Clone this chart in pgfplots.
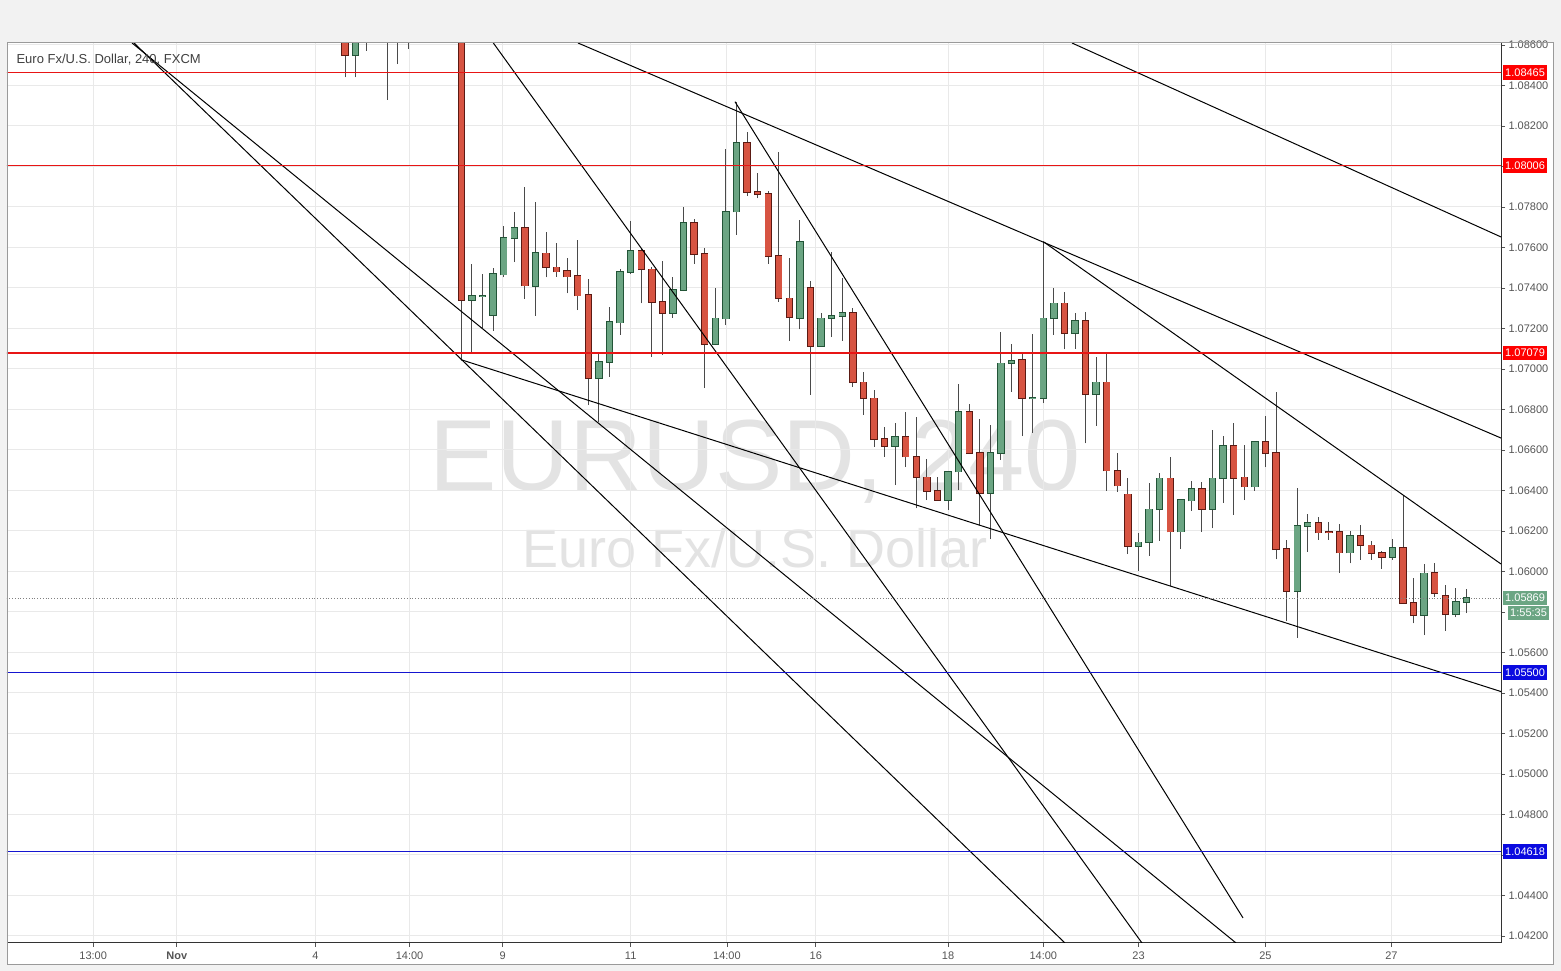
\documentclass[border=0pt]{standalone}
\usepackage{fontspec}
\setmainfont{Liberation Sans}
\usepackage{pgfplots}
\usepackage{pgfplotstable}
\pgfplotsset{compat=1.18}
\definecolor{upfill}{HTML}{6BA583}
\definecolor{upline}{HTML}{225437}
\definecolor{dnfill}{HTML}{D75442}
\definecolor{dnline}{HTML}{5B1A13}
\definecolor{wick}{HTML}{4A4A4A}
\definecolor{gridc}{HTML}{E9E9E9}
\definecolor{bgc}{HTML}{F2F2F2}
\definecolor{framec}{HTML}{9A9A9A}
\definecolor{labc}{HTML}{555555}
\definecolor{wm}{HTML}{E3E3E3}
\definecolor{levred}{HTML}{E81515}
\definecolor{boxred}{HTML}{FF0000}
\definecolor{levblue}{HTML}{1515D0}
\definecolor{boxblue}{HTML}{0A0AE0}
\definecolor{boxgreen}{HTML}{6BA583}

\pgfplotstableread{
i O H L C
0 1.0868 1.0875 1.08440 1.08549
1 1.08549 1.0872 1.08440 1.0866
2 1.0866 1.0874 1.08572 1.0870
3 1.0870 1.0878 1.0864 1.0872
4 1.0872 1.0880 1.08330 1.0868
5 1.0868 1.0876 1.08506 1.0870
6 1.0870 1.0880 1.08582 1.0874
7 1.0874 1.0879 1.0866 1.0872
8 1.0872 1.0880 1.0868 1.0876
9 1.0876 1.0881 1.0869 1.0873
10 1.0873 1.0880 1.0868 1.0875
11 1.0875 1.0882 1.07046 1.07342
12 1.07342 1.07519 1.07079 1.07359
13 1.07360 1.07469 1.07203 1.07362
14 1.07268 1.07499 1.07189 1.07469
15 1.07466 1.07705 1.07453 1.07647
16 1.07645 1.07777 1.07528 1.07695
17 1.07695 1.07899 1.07348 1.07412
18 1.07411 1.07826 1.07263 1.07574
19 1.07571 1.07675 1.07453 1.07502
20 1.07502 1.07621 1.07456 1.07481
21 1.07484 1.07550 1.07374 1.07456
22 1.07459 1.07637 1.07291 1.07362
23 1.07365 1.07444 1.06822 1.06954
24 1.06954 1.07074 1.06738 1.07036
25 1.07036 1.07305 1.06962 1.07231
26 1.07229 1.07492 1.07168 1.07478
27 1.07478 1.07732 1.07469 1.07583
28 1.07583 1.07596 1.07324 1.07492
29 1.07492 1.07502 1.07061 1.07332
30 1.07332 1.07535 1.07069 1.07278
31 1.07278 1.07456 1.07253 1.07390
32 1.07390 1.07799 1.07385 1.07720
33 1.07720 1.07739 1.07519 1.07566
34 1.07568 1.07596 1.06906 1.07122
35 1.07122 1.07399 1.07118 1.07250
36 1.07249 1.08085 1.07217 1.07777
37 1.07777 1.08320 1.07662 1.08115
38 1.08115 1.08172 1.07854 1.07873
39 1.07873 1.07969 1.07843 1.07863
40 1.07863 1.07879 1.07519 1.07558
41 1.07558 1.08073 1.07332 1.07349
42 1.07349 1.07547 1.07140 1.07255
43 1.07253 1.07736 1.07196 1.07626
44 1.07399 1.07436 1.06872 1.07114
45 1.07114 1.07275 1.07110 1.07250
46 1.07250 1.07576 1.07157 1.07262
47 1.07262 1.07451 1.07140 1.07275
48 1.07275 1.07300 1.06913 1.06934
49 1.06934 1.06987 1.06773 1.06855
50 1.06855 1.06896 1.06615 1.06653
51 1.06653 1.06715 1.06567 1.06620
52 1.06620 1.06735 1.06427 1.06666
53 1.06666 1.06789 1.06515 1.06567
54 1.06567 1.06764 1.06312 1.06465
55 1.06465 1.06554 1.06353 1.06399
56 1.06399 1.06468 1.06350 1.06353
57 1.06353 1.06498 1.06304 1.06493
58 1.06493 1.06926 1.06402 1.06789
59 1.06789 1.06827 1.06580 1.06584
60 1.06584 1.06752 1.06230 1.06386
61 1.06389 1.06723 1.06159 1.06584
62 1.06584 1.07184 1.06551 1.07028
63 1.07028 1.07123 1.06888 1.07041
64 1.07044 1.07078 1.06669 1.06855
65 1.06855 1.07173 1.06685 1.06858
66 1.06858 1.07629 1.06831 1.07250
67 1.07250 1.07399 1.07168 1.07324
68 1.07324 1.07382 1.07097 1.07176
69 1.07176 1.07275 1.07099 1.07236
70 1.07237 1.07280 1.06633 1.06875
71 1.06875 1.07061 1.06720 1.06934
72 1.06934 1.07078 1.06399 1.06498
73 1.06498 1.06584 1.06394 1.06424
74 1.06381 1.06460 1.06086 1.06127
75 1.06127 1.06189 1.06004 1.06144
76 1.06144 1.06439 1.06077 1.06307
77 1.06307 1.06485 1.06152 1.06460
78 1.06460 1.06567 1.05928 1.06197
79 1.06197 1.06356 1.06110 1.06353
80 1.06350 1.06447 1.06300 1.06406
81 1.06406 1.06443 1.06197 1.06310
82 1.06310 1.06699 1.06213 1.06460
83 1.06460 1.06669 1.06340 1.06620
84 1.06620 1.06732 1.06279 1.06463
85 1.06465 1.06625 1.06353 1.06419
86 1.06419 1.06640 1.06399 1.06638
87 1.06638 1.06768 1.06515 1.06584
88 1.06584 1.06888 1.06060 1.06110
89 1.06110 1.06156 1.05757 1.05905
90 1.05905 1.06411 1.05672 1.06226
91 1.06226 1.06284 1.06098 1.06238
92 1.06238 1.06271 1.06156 1.06192
93 1.06194 1.06246 1.06156 1.06192
94 1.06194 1.06235 1.05994 1.06093
95 1.06093 1.06201 1.06040 1.06175
96 1.06175 1.06230 1.06057 1.06129
97 1.06129 1.06151 1.06057 1.06090
98 1.06090 1.06101 1.06014 1.06073
99 1.06073 1.06162 1.06057 1.06115
100 1.06115 1.06378 1.05840 1.05843
101 1.05843 1.05966 1.05744 1.05784
102 1.05784 1.06036 1.05686 1.05991
103 1.05994 1.06044 1.05873 1.05892
104 1.05879 1.05934 1.05708 1.05789
105 1.05789 1.05917 1.05774 1.05848
106 1.05848 1.05912 1.05794 1.05869
}\candles

\tikzset{lbl/.style={anchor=west, text=white, font=\fontsize{11}{12}\selectfont, inner xsep=2.5pt, inner ysep=0pt, minimum height=14.5pt, xshift=1.5pt}}

\begin{document}
\begin{tikzpicture}
\fill[bgc] (0pt,0pt) rectangle (1561pt,971pt);
\useasboundingbox (0pt,0pt) rectangle (1561pt,971pt);
\fill[white] (7pt,6pt) rectangle (1553pt,928pt);
\node[text=wm, font=\fontsize{101}{101}\selectfont] at (755pt,509pt) {EURUSD, 240};
\node[text=wm, font=\fontsize{54}{54}\selectfont] at (755pt,423pt) {Euro Fx/U.S. Dollar};
\begin{axis}[
  at={(7pt,28pt)}, anchor=south west,
  scale only axis, width=1494pt, height=900pt,
  xmin=-31.947, xmax=109.263,
  ymin=1.041654, ymax=1.086099,
  axis x line*=bottom, axis y line*=right,
  axis line style={draw=black!80, line width=1pt},
  clip mode=individual,
  grid=major, major grid style={draw=gridc, line width=1pt},
  tick align=outside, major tick length=4pt,
  tick style={draw=labc, line width=0.8pt},
  xtick={-23.8,-15.9,-2.8,6.1,14.9,27,36.1,44.5,57,66,75,87,98.9},
  xticklabels={13:00,\textbf{Nov},4,14:00,9,11,14:00,16,18,14:00,23,25,27},
  xticklabel style={font=\fontsize{11}{12}\selectfont, text=labc, yshift=-1pt},
  ytick={1.042,1.044,1.046,1.048,1.050,1.052,1.054,1.056,1.058,1.060,1.062,1.064,1.066,1.068,1.070,1.072,1.074,1.076,1.078,1.080,1.082,1.084,1.086},
  yticklabels={1.04200,1.04400,,1.04800,1.05000,1.05200,1.05400,1.05600,,1.06000,1.06200,1.06400,1.06600,1.06800,1.07000,1.07200,1.07400,1.07600,1.07800,,1.08200,1.08400,1.08600},
  yticklabel style={font=\fontsize{11}{12}\selectfont, text=labc},
]
% wicks
\addplot[forget plot, draw=none, mark=none,
  error bars/.cd, y dir=plus, y explicit, error mark=none,
  error bar style={draw=wick, line width=1pt}]
  table[x=i, y=L, y error plus expr=\thisrow{H}-\thisrow{L}] {\candles};
% up bodies
\addplot[forget plot, draw=none, mark=none,
  restrict expr to domain={\thisrow{C}-\thisrow{O}}{0:1},
  error bars/.cd, y dir=plus, y explicit, error mark=none,
  error bar style={draw=upline, line width=7.4pt}]
  table[x=i, y expr={min(\thisrow{O},\thisrow{C})-0.00004}, y error plus expr={abs(\thisrow{C}-\thisrow{O})+0.00008}] {\candles};
\addplot[forget plot, draw=none, mark=none,
  restrict expr to domain={\thisrow{C}-\thisrow{O}}{0:1},
  error bars/.cd, y dir=plus, y explicit, error mark=none,
  error bar style={draw=upfill, line width=5.6pt}]
  table[x=i, y expr={min(\thisrow{O},\thisrow{C})}, y error plus expr={abs(\thisrow{C}-\thisrow{O})}] {\candles};
% down bodies
\addplot[forget plot, draw=none, mark=none,
  restrict expr to domain={\thisrow{O}-\thisrow{C}}{0.0000001:1},
  error bars/.cd, y dir=plus, y explicit, error mark=none,
  error bar style={draw=dnline, line width=7.4pt}]
  table[x=i, y expr={min(\thisrow{O},\thisrow{C})-0.00004}, y error plus expr={abs(\thisrow{C}-\thisrow{O})+0.00008}] {\candles};
\addplot[forget plot, draw=none, mark=none,
  restrict expr to domain={\thisrow{O}-\thisrow{C}}{0.0000001:1},
  error bars/.cd, y dir=plus, y explicit, error mark=none,
  error bar style={draw=dnfill, line width=5.6pt}]
  table[x=i, y expr={min(\thisrow{O},\thisrow{C})}, y error plus expr={abs(\thisrow{C}-\thisrow{O})}] {\candles};
% trend lines
\addplot[forget plot, draw=black, line width=1pt] coordinates {(-19.94,1.086099) (68.05,1.041654)};
\addplot[forget plot, draw=black, line width=1pt] coordinates {(-20.13,1.086099) (84.22,1.041654)};
\addplot[forget plot, draw=black, line width=1pt] coordinates {(10.96,1.07046) (109.263,1.05407)};
\addplot[forget plot, draw=black, line width=1pt] coordinates {(14.02,1.086099) (75.33,1.041654)};
\addplot[forget plot, draw=black, line width=1pt] coordinates {(36.86,1.08320) (84.88,1.04289)};
\addplot[forget plot, draw=black, line width=1pt] coordinates {(22.02,1.086099) (109.263,1.06659)};
\addplot[forget plot, draw=black, line width=1pt] coordinates {(68.71,1.086099) (109.263,1.07652)};
\addplot[forget plot, draw=black, line width=1pt] coordinates {(66.00,1.07629) (109.263,1.06037)};
% horizontal levels
\addplot[forget plot, draw=levred, line width=1.3pt] coordinates {(-32,1.08465) (110,1.08465)};
\addplot[forget plot, draw=levred, line width=1.3pt] coordinates {(-32,1.08006) (110,1.08006)};
\addplot[forget plot, draw=levred, line width=1.3pt] coordinates {(-32,1.07079) (110,1.07079)};
\addplot[forget plot, draw=levblue, line width=1.3pt] coordinates {(-32,1.05500) (110,1.05500)};
\addplot[forget plot, draw=levblue, line width=1.3pt] coordinates {(-32,1.04618) (110,1.04618)};
\addplot[forget plot, draw=gray, line width=0.8pt, dotted] coordinates {(-32,1.05869) (110,1.05869)};
% price labels
\node[lbl, fill=boxred] at (axis cs:109.263,1.08465) {1.08465};
\node[lbl, fill=boxred] at (axis cs:109.263,1.08006) {1.08006};
\node[lbl, fill=boxred] at (axis cs:109.263,1.07079) {1.07079};
\node[lbl, fill=boxblue] at (axis cs:109.263,1.05500) {1.05500};
\node[lbl, fill=boxblue] at (axis cs:109.263,1.04618) {1.04618};
\node[lbl, fill=boxgreen] at (axis cs:109.263,1.05869) {1.05869};
\node[lbl, fill=boxgreen, anchor=north west, xshift=5pt, yshift=-7.5pt] at (axis cs:109.263,1.05869) {1:55:35};
\end{axis}
\draw[framec, line width=1pt] (7pt,6pt) rectangle (1553pt,928pt);
\node[anchor=west, text=black!75, font=\fontsize{13}{14}\selectfont] at (13pt,911pt) {Euro Fx/U.S. Dollar, 240, FXCM};
\end{tikzpicture}
\end{document}
